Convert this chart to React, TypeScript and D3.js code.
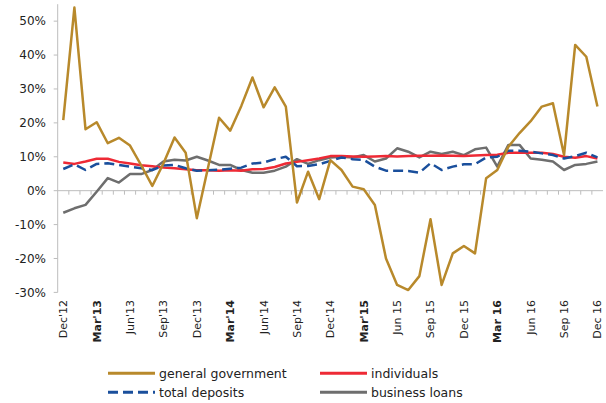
import React from "react";
import * as d3 from "d3";

// months Dec'12 .. Dec'16, one point per month
const months = d3.range(49);
const tickLabels = ["Dec'12", "Mar'13", "Jun'13", "Sep'13", "Dec'13", "Mar'14", "Jun'14", "Sep'14", "Dec'14", "Mar'15", "Jun 15", "Sep 15", "Dec 15", "Mar 16", "Jun 16", "Sep 16", "Dec 16"];
const yTicks = [-30, -20, -10, 0, 10, 20, 30, 40, 50];

const generalGovernment = [20.8, 54, 18.1, 20.2, 14, 15.6, 13.3, 7.5, 1.4, 8, 15.7, 11.2, -8.1, 6.7, 21.5, 17.7, 25, 33.4, 24.6, 30.5, 24.8, -3.5, 5.6, -2.5, 9, 6.1, 1.2, 0.4, -4.2, -20, -27.8, -29.3, -25.2, -8.4, -27.8, -18.5, -16.3, -18.5, 3.7, 6.1, 13, 17, 20.5, 24.8, 25.8, 10.5, 43, 39.5, 24.8];
const individuals = [8.3, 7.9, 8.6, 9.4, 9.4, 8.5, 8.0, 7.5, 7.2, 6.8, 6.6, 6.3, 6.0, 6.0, 5.9, 6.0, 5.9, 6.3, 6.4, 7.0, 8.0, 8.5, 9.0, 9.5, 10.2, 10.2, 10.1, 10.0, 10.1, 10.2, 10.1, 10.2, 10.3, 10.3, 10.4, 10.3, 10.2, 10.4, 10.5, 10.6, 11.2, 11.2, 11.2, 11.2, 10.8, 10.0, 9.7, 10.2, 9.5];
const totalDeposits = [6.4, 7.8, 6.1, 7.9, 8.1, 7.6, 7.1, 6.6, 6.1, 7.4, 7.6, 6.6, 5.9, 6.0, 6.2, 6.5, 6.8, 8.0, 8.3, 9.3, 10.0, 7.2, 7.3, 7.8, 8.8, 9.8, 9.3, 9.1, 7.1, 5.9, 5.9, 5.8, 5.3, 8.1, 6.1, 7.1, 7.8, 7.8, 9.8, 10.0, 11.8, 11.8, 11.5, 11.0, 10.5, 9.5, 10.2, 11.2, 9.8];
const businessLoans = [-6.5, -5.2, -4.2, -0.3, 3.7, 2.4, 4.9, 4.9, 6.1, 8.6, 9.1, 8.9, 10.0, 8.9, 7.6, 7.6, 6.1, 5.3, 5.3, 5.9, 7.1, 9.3, 7.9, 9.0, 9.8, 10.0, 9.8, 10.5, 8.6, 9.5, 12.5, 11.5, 9.8, 11.5, 10.8, 11.5, 10.5, 12.2, 12.7, 7.1, 13.5, 13.5, 9.5, 9.1, 8.6, 6.1, 7.6, 7.9, 8.6];

const series = [
  { name: "business loans", values: businessLoans, color: "#6e6e6e", dash: "" },
  { name: "individuals", values: individuals, color: "#ee2a35", dash: "" },
  { name: "total deposits", values: totalDeposits, color: "#1a4f9c", dash: "10,5" },
  { name: "general government", values: generalGovernment, color: "#b8892b", dash: "" },
];

const legendItems = [
  { name: "general government", col: 0, row: 0 },
  { name: "individuals", col: 1, row: 0 },
  { name: "total deposits", col: 0, row: 1 },
  { name: "business loans", col: 1, row: 1 },
];

const W = 606, H = 403;
const font = "'DejaVu Sans', Arial, sans-serif";

export default function App() {
  const x = d3.scaleBand<number>().domain(months).range([57.7, 603]).padding(0);
  const bw = x.bandwidth();
  const cx = (i: number) => (x(i) as number) + bw / 2;
  const y = d3.scaleLinear().domain([-30, 55]).range([292.4, 4.2]);

  const line = d3.line<number>().x((_, i) => cx(i)).y(d => y(d));

  return (
    <div style={{ position: "absolute", left: 0, top: 0 }}>
      <svg width={W} height={H} style={{ display: "block", background: "#fff" }}>
        {/* y axis */}
        <line x1={57.7} x2={57.7} y1={y(55)} y2={y(-30)} stroke="#bdbdbd" strokeWidth={1} />
        {yTicks.map(t => (
          <g key={t}>
            <line x1={53.7} x2={57.7} y1={y(t)} y2={y(t)} stroke="#bdbdbd" />
            <text x={46} y={y(t)} dy="0.36em" textAnchor="end" fontFamily={font} fontSize={12} fill="#222">
              {t}%
            </text>
          </g>
        ))}
        {/* x axis at 0% */}
        <line x1={57.7} x2={603} y1={y(0)} y2={y(0)} stroke="#bdbdbd" />
        {months.slice(1).map(i => (
          <line key={i} x1={x(i) as number} x2={x(i) as number} y1={y(0)} y2={y(0) + 4} stroke="#bdbdbd" />
        ))}
        {tickLabels.map((lab, k) => {
          const px = cx(k * 3);
          return (
            <text key={lab} transform={`translate(${px},300) rotate(-90)`} dy="0.36em" textAnchor="end"
              fontFamily={font} fontSize={11} fill="#222" fontWeight={lab.startsWith("Mar") ? "bold" : "normal"}>
              {lab}
            </text>
          );
        })}
        {/* lines */}
        {series.map(s => (
          <path key={s.name} d={line(s.values) as string} fill="none" stroke={s.color} strokeWidth={2.5}
            strokeDasharray={s.dash || undefined} strokeLinejoin="round" />
        ))}
        {/* legend */}
        {legendItems.map(l => {
          const s = series.find(d => d.name === l.name)!;
          const lx = l.col === 0 ? 108 : 320;
          const ly = l.row === 0 ? 373.3 : 392.3;
          return (
            <g key={l.name}>
              <line x1={lx} x2={lx + 47} y1={ly} y2={ly} stroke={s.color} strokeWidth={3} strokeDasharray={s.dash || undefined} />
              <text x={lx + 51} y={ly} dy="0.36em" fontFamily={font} fontSize={12.5} fill="#222">{l.name}</text>
            </g>
          );
        })}
      </svg>
    </div>
  );
}
